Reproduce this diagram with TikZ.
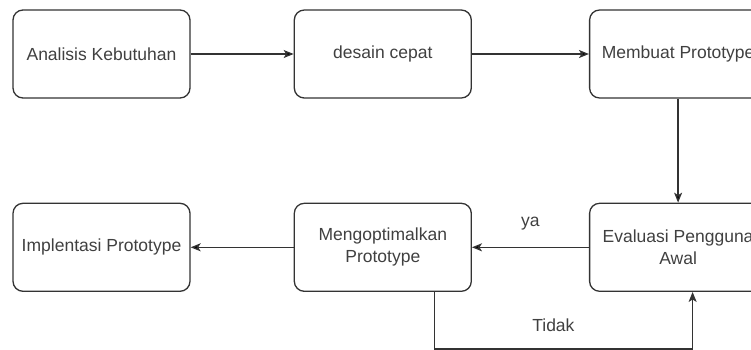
\documentclass[tikz,border=0pt]{standalone}
\usepackage{fontspec}
\setmainfont{Liberation Sans}
\usetikzlibrary{arrows.meta,positioning}

\begin{document}
\begin{tikzpicture}[>={Stealth[length=10pt,width=8pt,inset=2.5pt]},auto,line width=1.3pt,
	every node/.style={font=\fontsize{17.5}{22}\selectfont,text=black!75},
	fase/.style={draw=black!80,rounded corners=10pt,minimum width=177pt,minimum height=88pt,align=center}]
	\useasboundingbox (0,0) rectangle (751pt,-349pt);
	\node[fase]         (q1) at (101.5pt,-54pt) {Analisis Kebutuhan};
	\node[fase]         (q2) [right=103pt of q1] {desain cepat};
	\node[fase]         (q3) [right=117pt of q2] {Membuat Prototype};
	\node[fase]         (q4) [below=104pt of q3] {Evaluasi Pengguna\\Awal};
	\node[fase]         (q5) [left=117pt of q4] {Mengoptimalkan\\Prototype};
	\node[fase]         (q6) [left=103pt of q5] {Implentasi Prototype};
	
	\path[->,draw=black!80]
	(q1) edge (q2)
	(q2) edge (q3)
	(q3) edge (q4)
	(q4) edge node[above=13pt] {ya} (q5)
	(q5) edge (q6);
	\draw[->,black!80] ([xshift=52pt]q5.south) -- ++(0,-57pt) -| node[pos=0.23,above=13pt] {Tidak} ([xshift=14.5pt]q4.south);
\end{tikzpicture}
\end{document}
